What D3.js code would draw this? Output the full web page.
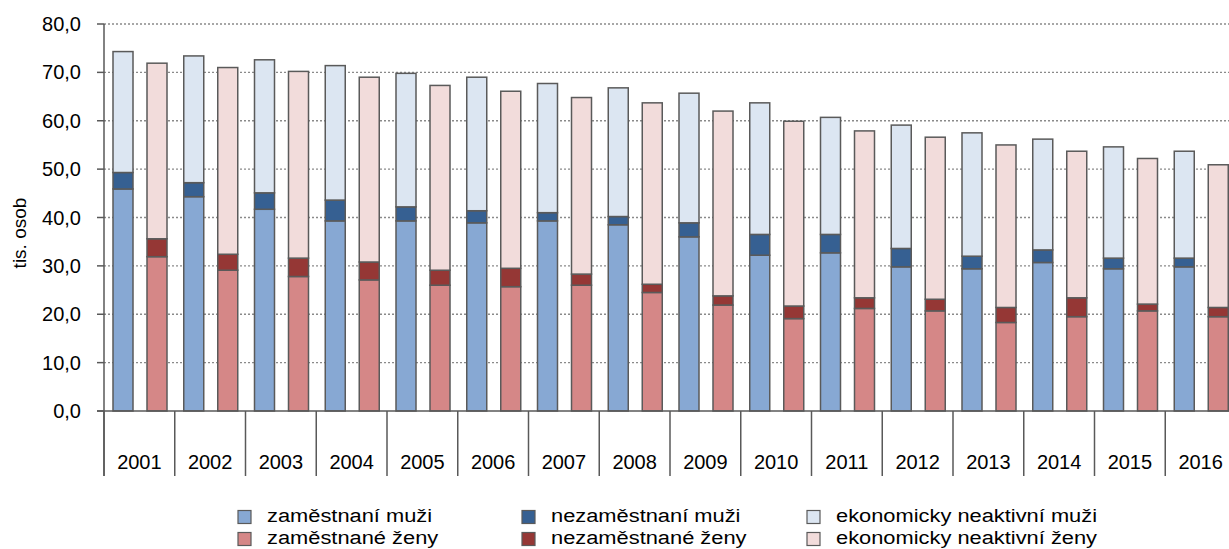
<!DOCTYPE html>
<html>
<head>
<meta charset="utf-8">
<script src="https://cdn.jsdelivr.net/npm/d3@7"></script>
<style>
  body { margin: 0; background: #fff; }
  svg { display: block; font-family: "Liberation Sans", Arial, sans-serif; }
</style>
</head>
<body>
<svg id="chart" width="1229" height="549"></svg>
<script>
// hodnoty v tis. osob
const years = ["2001","2002","2003","2004","2005","2006","2007","2008","2009","2010","2011","2012","2013","2014","2015","2016"];
const zamMuzi   = [45.9,44.3,41.7,39.3,39.3,38.9,39.3,38.5,36.0,32.2,32.7,29.8,29.4,30.7,29.4,29.8];
const nezamMuzi = [3.4,2.9,3.4,4.3,2.9,2.5,1.7,1.7,2.9,4.3,3.8,3.8,2.6,2.6,2.2,1.8];
const neaktMuzi = [25.0,26.2,27.5,27.8,27.6,27.6,26.7,26.6,26.8,27.2,24.2,25.5,25.5,22.9,23.0,22.1];
const zamZeny   = [31.9,29.1,27.8,27.1,26.0,25.7,26.0,24.5,21.9,19.1,21.2,20.7,18.3,19.5,20.7,19.5];
const nezamZeny = [3.7,3.3,3.8,3.7,3.1,3.8,2.3,1.7,1.9,2.6,2.2,2.4,3.1,3.9,1.4,1.9];
const neaktZeny = [36.3,38.6,38.6,38.2,38.2,36.6,36.5,37.5,38.2,38.2,34.5,33.5,33.6,30.3,30.1,29.5];
const yTicks = [0,10,20,30,40,50,60,70,80];

const seriesMuzi = [
  {name: "zaměstnaní muži", values: zamMuzi, color: "#87a8d3"},
  {name: "nezaměstnaní muži", values: nezamMuzi, color: "#366092"},
  {name: "ekonomicky neaktivní muži", values: neaktMuzi, color: "#dce6f2"}
];
const seriesZeny = [
  {name: "zaměstnané ženy", values: zamZeny, color: "#d58787"},
  {name: "nezaměstnané ženy", values: nezamZeny, color: "#953735"},
  {name: "ekonomicky neaktivní ženy", values: neaktZeny, color: "#f2dcdb"}
];

const svg = d3.select("#chart");
const plotLeft = 104, plotTop = 24, plotBottom = 411, sepBottom = 476;
const step = 70.75;

const x = d3.scaleBand().domain(years).range([plotLeft, plotLeft + step * years.length]);
const xIn = d3.scaleBand().domain(["m", "z"]).range([9, 63]).paddingInner(14 / 34);
const y = d3.scaleLinear().domain([0, 80]).range([plotBottom, plotTop]);

// mřížka
svg.append("g")
  .selectAll("line").data(yTicks.filter(d => d > 0)).join("line")
    .attr("x1", plotLeft).attr("x2", 1229)
    .attr("y1", d => y(d)).attr("y2", d => y(d))
    .attr("stroke", "#8a8a8a").attr("stroke-width", 1.3)
    .attr("stroke-dasharray", "2,2");

function drawStack(series, key) {
  const rows = years.map((yr, i) => {
    const r = {year: yr};
    series.forEach(s => r[s.name] = s.values[i]);
    return r;
  });
  const stacked = d3.stack().keys(series.map(s => s.name))(rows);
  svg.append("g")
    .selectAll("g").data(stacked).join("g")
      .attr("fill", (d, i) => series[i].color)
    .selectAll("rect").data(d => d).join("rect")
      .attr("x", d => x(d.data.year) + xIn(key))
      .attr("width", xIn.bandwidth())
      .attr("y", d => y(d[1]))
      .attr("height", d => y(d[0]) - y(d[1]))
      .attr("stroke", "#5a5a5a").attr("stroke-width", 1.5);
}
drawStack(seriesMuzi, "m");
drawStack(seriesZeny, "z");

// osa y
const yAxis = svg.append("g");
yAxis.append("line")
  .attr("x1", plotLeft).attr("x2", plotLeft).attr("y1", plotTop).attr("y2", sepBottom)
  .attr("stroke", "#595959").attr("stroke-width", 1.5);
yAxis.selectAll(".tick").data(yTicks).join("line")
  .attr("class", "tick")
  .attr("x1", plotLeft - 7).attr("x2", plotLeft)
  .attr("y1", d => y(d)).attr("y2", d => y(d))
  .attr("stroke", "#595959").attr("stroke-width", 1.5);
yAxis.selectAll("text").data(yTicks).join("text")
  .attr("x", 81).attr("y", d => y(d))
  .attr("dy", "0.35em").attr("text-anchor", "end")
  .attr("font-size", 20).attr("fill", "#000")
  .text(d => d3.format(".1f")(d).replace(".", ","));

svg.append("text")
  .attr("transform", "translate(26,233) rotate(-90)")
  .attr("text-anchor", "middle")
  .attr("font-size", 19)
  .text("tis. osob");

// osa x
const xAxis = svg.append("g");
xAxis.append("line")
  .attr("x1", plotLeft - 7).attr("x2", 1229).attr("y1", plotBottom).attr("y2", plotBottom)
  .attr("stroke", "#595959").attr("stroke-width", 1.5);
xAxis.selectAll(".sep").data(years.concat(["end"])).join("line")
  .attr("class", "sep")
  .attr("x1", (d, i) => plotLeft + i * x.step()).attr("x2", (d, i) => plotLeft + i * x.step())
  .attr("y1", plotBottom).attr("y2", sepBottom)
  .attr("stroke", "#595959").attr("stroke-width", 1.5);
xAxis.selectAll("text").data(years).join("text")
  .attr("x", d => x(d) + x.bandwidth() / 2)
  .attr("y", 469)
  .attr("text-anchor", "middle")
  .attr("font-size", 20)
  .text(d => d);

// legenda
const legendRows = [seriesMuzi, seriesZeny];
const colX = [238, 522, 807];
legendRows.forEach((row, r) => {
  const g = svg.append("g").attr("transform", `translate(0,${517 + r * 22})`);
  const item = g.selectAll("g").data(row).join("g")
    .attr("transform", (d, i) => `translate(${colX[i]},0)`);
  item.append("rect")
    .attr("x", 0).attr("y", -6.5).attr("width", 13).attr("height", 13)
    .attr("fill", d => d.color).attr("stroke", "#5a5a5a").attr("stroke-width", 1.2);
  item.append("text")
    .attr("transform", "translate(29,5) scale(1.15,1)")
    .attr("font-size", 19)
    .text(d => d.name);
});
</script>
</body>
</html>
